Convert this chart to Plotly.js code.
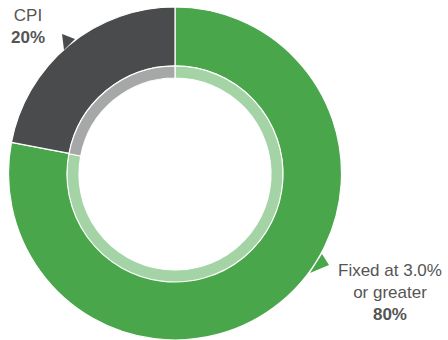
<!DOCTYPE html>
<html>
<head>
<meta charset="utf-8">
<script src="https://cdn.plot.ly/plotly-3.0.1.min.js"></script>
<style>
  html, body { margin: 0; padding: 0; background: #ffffff; }
  #chart { width: 448px; height: 340px; }
</style>
</head>
<body>
<div id="chart"></div>
<script>
// ---- data ----
const categories = ["Fixed at 3.0% or greater", "CPI"];
const shareValues = [78, 22];            // slice sizes as read from the ring
const labelPercents = ["80%", "20%"];    // printed labels
const outerColors = ["#49a64b", "#4a4b4d"];
const innerColors = ["#a4d4a5", "#a6a8a8"];

// ---- geometry helpers (pixels -> paper) ----
const W = 448, H = 340, MT = 7, MB = 0;
const PH = H - MT - MB;
const px = x => x / W;
const py = y => (H - MB - y) / PH;

const cx = 175, cy = 174, rOuter = 167, rMid = 108, rIn = 96;

const outer = {
  type: "pie",
  labels: categories,
  values: shareValues,
  sort: false,
  direction: "clockwise",
  rotation: 0,
  hole: rMid / rOuter,
  textinfo: "none",
  hoverinfo: "label+percent",
  marker: { colors: outerColors, line: { color: "#ffffff", width: 1.2 } },
  domain: { x: [px(cx - rOuter), px(cx + rOuter)], y: [py(cy + rOuter), py(cy - rOuter)] },
  showlegend: false
};

const inner = {
  type: "pie",
  labels: categories,
  values: shareValues,
  sort: false,
  direction: "clockwise",
  rotation: 0,
  hole: rIn / rMid,
  textinfo: "none",
  hoverinfo: "skip",
  marker: { colors: innerColors, line: { color: "#ffffff", width: 1.2 } },
  domain: { x: [px(cx - rMid), px(cx + rMid)], y: [py(cy + rMid), py(cy - rMid)] },
  showlegend: false
};

function tri(pts) {
  return "M" + pts.map(p => px(p[0]) + "," + py(p[1])).join(" L") + " Z";
}

const layout = {
  width: W, height: H,
  margin: { l: 0, r: 0, t: MT, b: MB },
  paper_bgcolor: "#ffffff",
  plot_bgcolor: "#ffffff",
  font: { family: "Liberation Sans, Arial, sans-serif", color: "#555555" },
  shapes: [
    { type: "path", xref: "paper", yref: "paper", path: tri([[62, 34], [64, 50], [75, 39]]),
      fillcolor: outerColors[1], line: { width: 0 } },
    { type: "path", xref: "paper", yref: "paper", path: tri([[322, 254], [329, 265], [310, 273]]),
      fillcolor: outerColors[0], line: { width: 0 } }
  ],
  annotations: [
    { xref: "paper", yref: "paper", x: px(28), y: py(4), xanchor: "center", yanchor: "top",
      showarrow: false, align: "center",
      text: "CPI<br><b>" + labelPercents[1] + "</b>",
      font: { size: 17, color: "#555555" } },
    { xref: "paper", yref: "paper", x: px(390), y: py(292), xanchor: "center", yanchor: "middle",
      showarrow: false, align: "center",
      text: "Fixed at 3.0%<br>or greater<br><b>" + labelPercents[0] + "</b>",
      font: { size: 17, color: "#555555" } }
  ]
};

Plotly.newPlot("chart", [outer, inner], layout, { displayModeBar: false, staticPlot: true });
</script>
</body>
</html>
